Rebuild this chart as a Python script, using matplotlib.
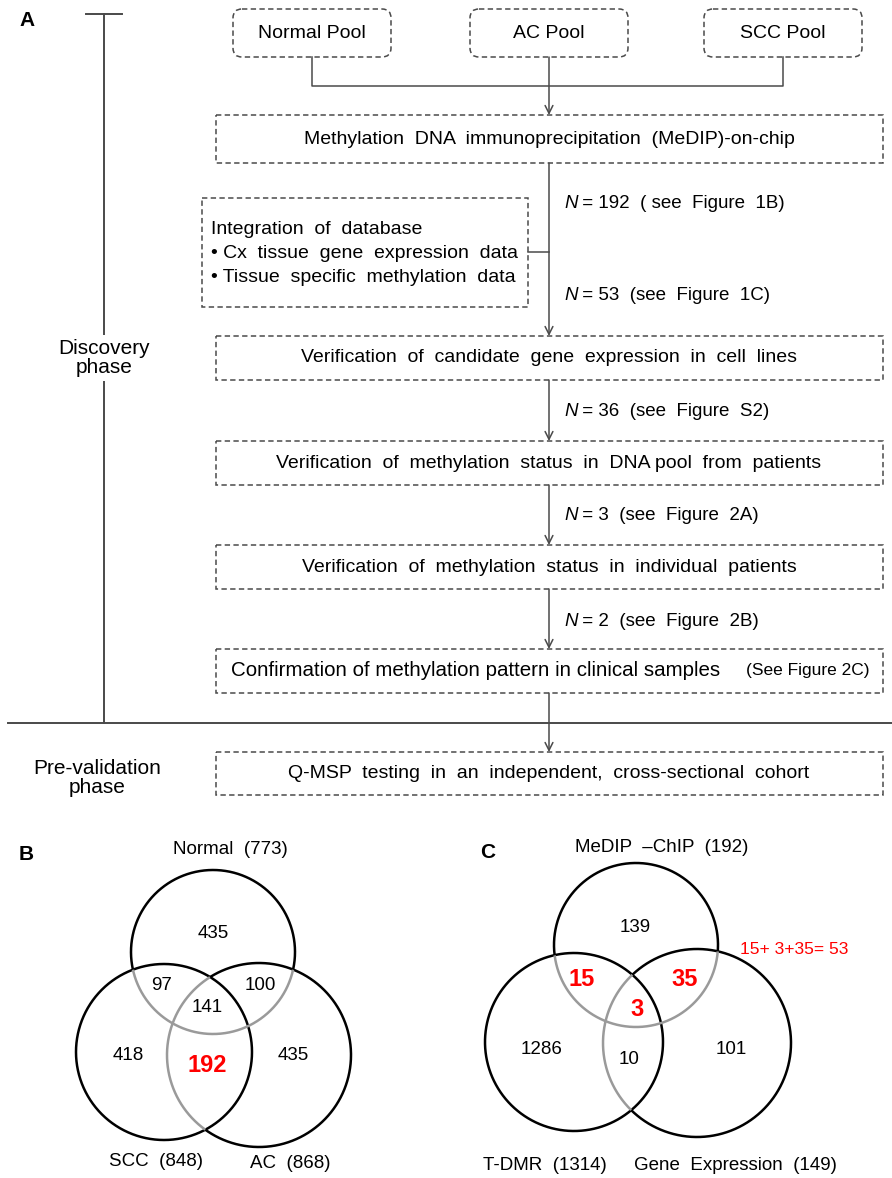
import numpy as np
import matplotlib
matplotlib.use("Agg")
import matplotlib.pyplot as plt
from matplotlib.patches import FancyBboxPatch, Rectangle

plt.rcParams['font.family'] = ['Liberation Sans', 'DejaVu Sans']

# flowchart text
pool_names = ["Normal Pool", "AC Pool", "SCC Pool"]
medip_label = "Methylation  DNA  immunoprecipitation  (MeDIP)-on-chip"
integration_lines = ["Integration  of  database",
                     "\u2022 Cx  tissue  gene  expression  data",
                     "\u2022 Tissue  specific  methylation  data"]
step_labels = ["Verification  of  candidate  gene  expression  in  cell  lines",
               "Verification  of  methylation  status  in  DNA pool  from  patients",
               "Verification  of  methylation  status  in  individual  patients"]
confirm_label = "Confirmation of methylation pattern in clinical samples"
confirm_ref = "(See Figure 2C)"
qmsp_label = "Q-MSP  testing  in  an  independent,  cross-sectional  cohort"
n_values = [192, 53, 36, 3, 2]
n_refs = ["( see  Figure  1B)", "(see  Figure  1C)", "(see  Figure  S2)",
          "(see  Figure  2A)", "(see  Figure  2B)"]

# venn B (Normal / SCC / AC)
venn_b_sets = ["Normal  (773)", "SCC  (848)", "AC  (868)"]
venn_b_counts = {"N": 435, "NS": 97, "NA": 100, "NSA": 141, "S": 418, "SA": 192, "A": 435}
# venn C (MeDIP / T-DMR / Gene expression)
venn_c_sets = ["MeDIP  \u2013ChIP  (192)", "T-DMR  (1314)", "Gene  Expression  (149)"]
venn_c_counts = {"M": 139, "MT": 15, "MG": 35, "MTG": 3, "T": 1286, "TG": 10, "G": 101}
venn_c_note = "15+ 3+35= 53"

LINE = "#4a4a4a"
DASH = (0, (3.5, 2.2))

fig = plt.figure(figsize=(8.92, 11.78), dpi=100)
ax = fig.add_axes([0, 0, 1, 1])
ax.set_xlim(0, 892)
ax.set_ylim(1178, 0)
ax.axis("off")

FS = 14


def dbox(x0, y0, x1, y1, rounded=False):
    if rounded:
        p = FancyBboxPatch((x0, y0), x1 - x0, y1 - y0,
                           boxstyle="round,pad=0,rounding_size=9",
                           fill=False, ec=LINE, lw=1.1, ls=DASH)
    else:
        p = Rectangle((x0, y0), x1 - x0, y1 - y0, fill=False,
                      ec=LINE, lw=1.1, ls=DASH)
    ax.add_patch(p)


def arrow(x, y0, y1):
    ax.annotate("", xy=(x, y1), xytext=(x, y0),
                arrowprops=dict(arrowstyle="->", color=LINE, lw=1.1,
                                shrinkA=0, shrinkB=0, mutation_scale=14))


# panel letters
ax.text(19, 20, "A", fontsize=15, fontweight="bold", va="center")
ax.text(19, 855, "B", fontsize=15, fontweight="bold", va="center")
ax.text(480, 853, "C", fontsize=15, fontweight="bold", va="center")

# phase bracket
ax.plot([86, 122], [14, 14], color=LINE, lw=1.4)
ax.plot([104, 104], [14, 723], color=LINE, lw=1.4)
ax.plot([8, 892], [723, 723], color=LINE, lw=1.4)
ax.text(104, 358, "Discovery\nphase", fontsize=FS + 1, ha="center", va="center",
        linespacing=1.0, bbox=dict(fc="white", ec="none", pad=3))
ax.text(97, 778, "Pre-validation\nphase", fontsize=FS + 1, ha="center", va="center",
        linespacing=1.0)

# pools
pool_x = [312, 549, 783]
for name, cx in zip(pool_names, pool_x):
    dbox(cx - 79, 9, cx + 79, 57, rounded=True)
    ax.text(cx, 33, name, fontsize=FS, ha="center", va="center")
ax.plot([pool_x[0], pool_x[0], pool_x[2], pool_x[2]], [57, 86, 86, 57], color=LINE, lw=1.1)
arrow(549, 57, 115)

MX = 549
BX0, BX1 = 216, 883

# MeDIP box
dbox(BX0, 115, BX1, 163)
ax.text(MX, 139, medip_label, fontsize=FS, ha="center", va="center")

# integration box
dbox(202, 198, 528, 307)
for i, line in enumerate(integration_lines):
    ax.text(211, 229 + i * 24.5, line, fontsize=FS, ha="left", va="center")
ax.plot([528, MX], [252, 252], color=LINE, lw=1.1)

# steps
step_tops = [336, 441, 545]
arrow(MX, 163, step_tops[0])
for lab, top in zip(step_labels, step_tops):
    dbox(BX0, top, BX1, top + 44)
    ax.text(MX, top + 22, lab, fontsize=FS, ha="center", va="center")

confirm_top = 649
arrow(MX, step_tops[0] + 44, step_tops[1])
arrow(MX, step_tops[1] + 44, step_tops[2])
arrow(MX, step_tops[2] + 44, confirm_top)

dbox(BX0, confirm_top, BX1, confirm_top + 44)
ax.text(231, confirm_top + 22, confirm_label, fontsize=14.8, ha="left", va="center")
ax.text(870, confirm_top + 22, confirm_ref, fontsize=12.5, ha="right", va="center")

arrow(MX, confirm_top + 44, 752)
dbox(BX0, 752, BX1, 795)
ax.text(MX, 774, qmsp_label, fontsize=FS, ha="center", va="center")

# N labels
n_y = [203, 295, 411, 516, 621]
for n, ref, y in zip(n_values, n_refs, n_y):
    ax.text(564, y, "N", fontsize=FS - 0.5, style="italic", ha="left", va="center")
    ax.text(577, y, f" = {n}  {ref}", fontsize=FS - 0.5, ha="left", va="center")


# venn helper: draw circle edges, gray where inside listed other circles
def venn_circle(c, others):
    t = np.linspace(0, 2 * np.pi, 1441)
    x = c[0] + c[2] * np.cos(t)
    y = c[1] + c[2] * np.sin(t)
    inside = np.zeros_like(t, dtype=bool)
    for o in others:
        inside |= (x - o[0]) ** 2 + (y - o[1]) ** 2 < o[2] ** 2
    ax.plot(np.where(inside, np.nan, x), np.where(inside, np.nan, y), color="black", lw=1.8,
            solid_capstyle="butt")
    ax.plot(np.where(inside, x, np.nan), np.where(inside, y, np.nan), color="#9a9a9a", lw=1.8,
            solid_capstyle="butt")


def venn(top, left, right):
    venn_circle(left, [])
    venn_circle(right, [left])
    venn_circle(top, [left, right])


VFS = 13.5
# panel B
b_top, b_left, b_right = (213, 952, 82), (164, 1052, 88), (259, 1055, 92)
venn(b_top, b_left, b_right)
ax.text(230, 850, venn_b_sets[0], fontsize=VFS, ha="center", va="center")
ax.text(156, 1161, venn_b_sets[1], fontsize=VFS, ha="center", va="center")
ax.text(290, 1163, venn_b_sets[2], fontsize=VFS, ha="center", va="center")
b_pos = {"N": (213, 934), "NS": (162, 986), "NA": (260, 986), "NSA": (207, 1008),
         "S": (128, 1056), "SA": (207, 1065), "A": (293, 1055)}
for k, (x, y) in b_pos.items():
    if k == "SA":
        ax.text(x, y, str(venn_b_counts[k]), fontsize=17, fontweight="bold", color="red",
                ha="center", va="center")
    else:
        ax.text(x, y, str(venn_b_counts[k]), fontsize=VFS, ha="center", va="center")

# panel C
c_top, c_left, c_right = (636, 945, 82), (574, 1042, 89), (697, 1043, 94)
venn(c_top, c_left, c_right)
ax.text(662, 848, venn_c_sets[0], fontsize=VFS, ha="center", va="center")
ax.text(545, 1165, venn_c_sets[1], fontsize=VFS, ha="center", va="center")
ax.text(735, 1165, venn_c_sets[2], fontsize=VFS, ha="center", va="center")
c_pos = {"M": (635, 928), "MT": (582, 980), "MG": (685, 980), "MTG": (637, 1010),
         "T": (542, 1050), "TG": (629, 1060), "G": (731, 1049)}
for k, (x, y) in c_pos.items():
    if k in ("MT", "MG", "MTG"):
        ax.text(x, y, str(venn_c_counts[k]), fontsize=17, fontweight="bold", color="red",
                ha="center", va="center")
    else:
        ax.text(x, y, str(venn_c_counts[k]), fontsize=VFS, ha="center", va="center")
ax.text(740, 949, venn_c_note, fontsize=12.5, color="red", ha="left", va="center")

fig.savefig("out.png", dpi=100)
